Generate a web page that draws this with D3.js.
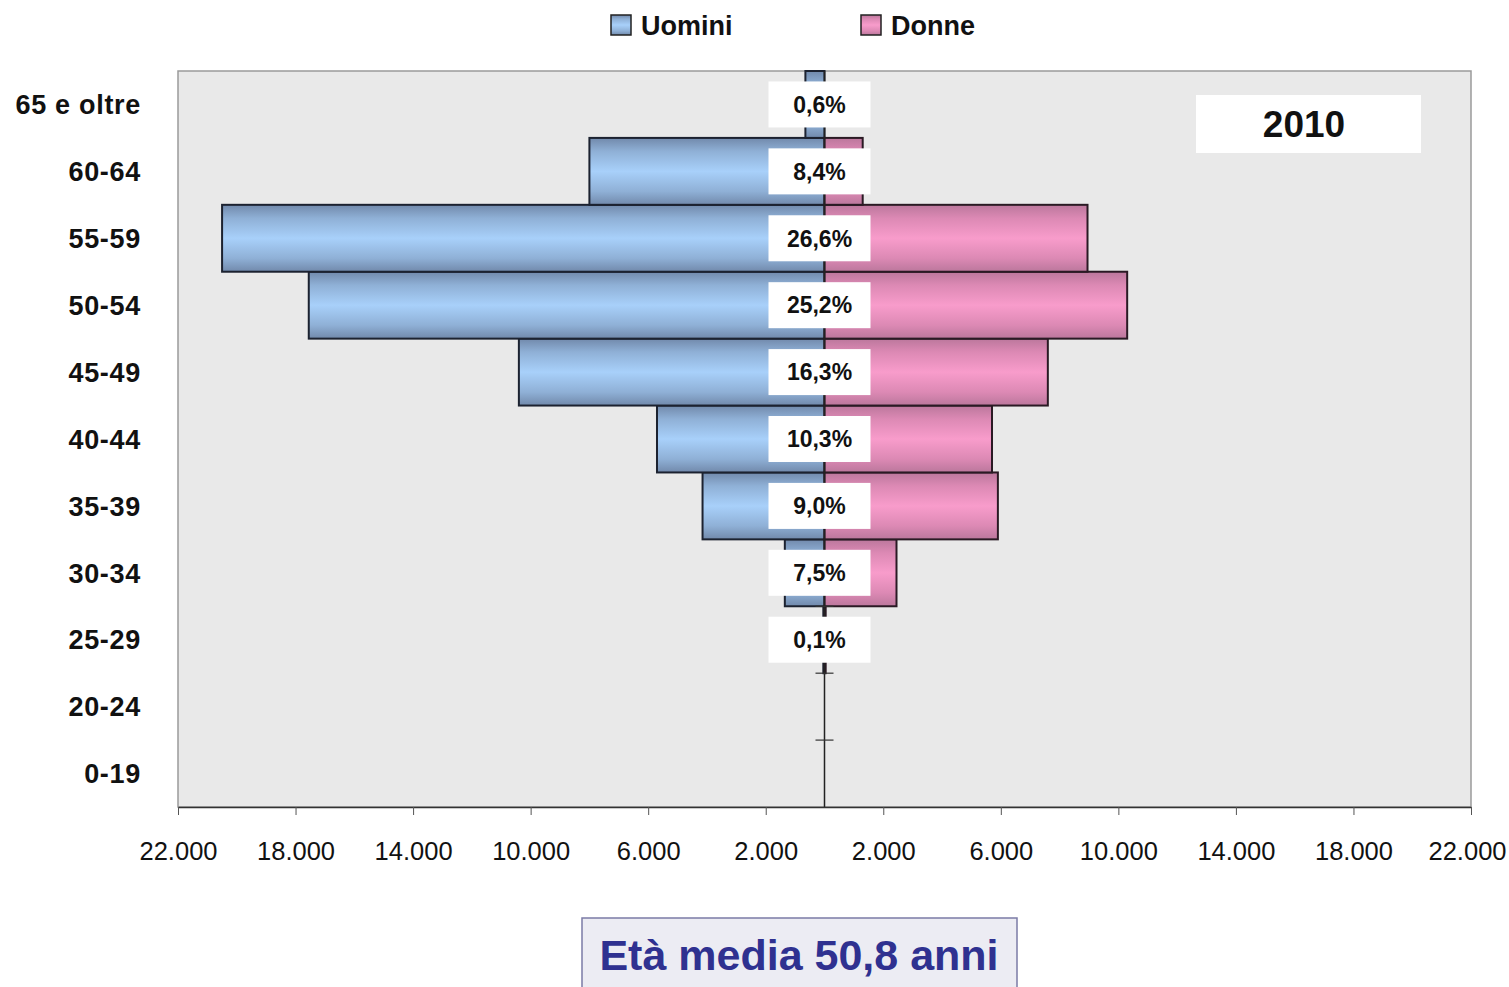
<!DOCTYPE html>
<html>
<head>
<meta charset="utf-8">
<script src="https://cdn.jsdelivr.net/npm/d3@7"></script>
<style>
  body { margin: 0; background: #fff; }
  svg { display: block; font-family: "Liberation Sans", Arial, sans-serif; }
</style>
</head>
<body>
<script>
// Age classes, bottom to top
var categories = ["0-19", "20-24", "25-29", "30-34", "35-39", "40-44", "45-49", "50-54", "55-59", "60-64", "65 e oltre"];
var men   = [0, 0, 40, 1350, 4150, 5700, 10400, 17550, 20500, 8000, 650];
var women = [0, 0, 40, 2450, 5900, 5700, 7600, 10300, 8950, 1300, 0];
var shares = ["", "", "0,1%", "7,5%", "9,0%", "10,3%", "16,3%", "25,2%", "26,6%", "8,4%", "0,6%"];
var xTicks = [-22000, -18000, -14000, -10000, -6000, -2000, 2000, 6000, 10000, 14000, 18000, 22000];
var year = "2010";
var meanAge = "Età media 50,8 anni";

var W = 1509, H = 987;
// plot area edges (note: "top" is reserved on window, so prefixed names)
var plotL = 178, plotR = 1471, plotT = 71, plotB = 807;

var it = d3.formatLocale({ decimal: ",", thousands: ".", grouping: [3], currency: ["", " €"] });
var fmt = it.format(",");

var svg = d3.select("body").append("svg")
    .attr("width", W)
    .attr("height", H);

// Gradients for the bar fills
var defs = svg.append("defs");
function grad(id, edge, mid, light) {
    var g = defs.append("linearGradient").attr("id", id)
        .attr("x1", 0).attr("y1", 0).attr("x2", 0).attr("y2", 1);
    [[0, edge], [0.2, mid], [0.5, light], [0.8, mid], [1, edge]].forEach(function(s) {
        g.append("stop").attr("offset", s[0]).attr("stop-color", s[1]);
    });
}
grad("gMen", "#7189ab", "#8fb0d6", "#a8d0fa");
grad("gWomen", "#bb779c", "#dc89b4", "#f89ccb");

var x = d3.scaleLinear().domain([-22000, 22000]).range([plotL, plotR]);
var y = d3.scaleBand().domain(categories.slice().reverse()).range([plotT, plotB]).padding(0);

// Plot area
svg.append("rect")
    .attr("x", plotL).attr("y", plotT)
    .attr("width", plotR - plotL).attr("height", plotB - plotT)
    .attr("fill", "#e9e9e9")
    .attr("stroke", "#9a9a9a")
    .attr("stroke-width", 1.5);

var rows = categories.map(function(c, i) {
    return { cat: c, m: men[i], w: women[i], p: shares[i] };
});

// Men bars (left)
svg.selectAll(".men").data(rows.filter(function(d) { return d.m > 0; }))
  .enter().append("rect")
    .attr("class", "men")
    .attr("x", function(d) { return x(-d.m); })
    .attr("y", function(d) { return y(d.cat); })
    .attr("width", function(d) { return x(0) - x(-d.m); })
    .attr("height", y.bandwidth())
    .attr("fill", "url(#gMen)")
    .attr("stroke", "#1c2230")
    .attr("stroke-width", 2);

// Women bars (right)
svg.selectAll(".women").data(rows.filter(function(d) { return d.w > 0; }))
  .enter().append("rect")
    .attr("class", "women")
    .attr("x", x(0))
    .attr("y", function(d) { return y(d.cat); })
    .attr("width", function(d) { return x(d.w) - x(0); })
    .attr("height", y.bandwidth())
    .attr("fill", "url(#gWomen)")
    .attr("stroke", "#2a1a24")
    .attr("stroke-width", 2);

// Central vertical axis with crossing ticks at the band edges
svg.append("line")
    .attr("x1", x(0)).attr("x2", x(0))
    .attr("y1", plotT).attr("y2", plotB)
    .attr("stroke", "#222").attr("stroke-width", 1.5);
svg.selectAll(".ctick").data(categories.slice(0, 3))
  .enter().append("line")
    .attr("class", "ctick")
    .attr("x1", x(0) - 9).attr("x2", x(0) + 9)
    .attr("y1", function(d) { return y(d); })
    .attr("y2", function(d) { return y(d); })
    .attr("stroke", "#333").attr("stroke-width", 1.2);

// Share labels in white boxes
var lab = svg.selectAll(".share").data(rows.filter(function(d) { return d.p; }))
  .enter().append("g")
    .attr("class", "share")
    .attr("transform", function(d) { return "translate(" + (x(0) - 5) + "," + (y(d.cat) + y.bandwidth() / 2) + ")"; });
lab.append("rect")
    .attr("x", -51).attr("y", -23)
    .attr("width", 102).attr("height", 46)
    .attr("fill", "#fff");
lab.append("text")
    .attr("text-anchor", "middle")
    .attr("dy", "0.36em")
    .attr("font-size", 23).attr("font-weight", "bold")
    .attr("fill", "#111")
    .text(function(d) { return d.p; });

// Bottom axis
var xAxis = svg.append("g")
    .attr("transform", "translate(0," + plotB + ")")
    .call(d3.axisBottom(x).tickValues(xTicks).tickSize(8).tickSizeOuter(0).tickPadding(27)
        .tickFormat(function(d) { return fmt(Math.abs(d)); }));
xAxis.select(".domain").attr("stroke", "#333").attr("stroke-width", 1.5);
xAxis.selectAll(".tick line").attr("stroke", "#555");
xAxis.selectAll("text")
    .attr("font-size", 25.5).attr("fill", "#111")
    .attr("font-family", "'Liberation Sans', Arial, sans-serif");
// keep the last label inside the page
xAxis.selectAll(".tick text").filter(function(d) { return d === 22000; })
    .attr("dx", -4);

// Category labels
svg.selectAll(".cat").data(categories)
  .enter().append("text")
    .attr("class", "cat")
    .attr("x", 141)
    .attr("y", function(d) { return y(d) + y.bandwidth() / 2; })
    .attr("dy", "0.36em")
    .attr("text-anchor", "end")
    .attr("font-size", 27).attr("font-weight", "bold")
    .attr("letter-spacing", 0.7)
    .attr("fill", "#111")
    .text(function(d) { return d; });

// Year box
svg.append("rect")
    .attr("x", 1196).attr("y", 95).attr("width", 225).attr("height", 58)
    .attr("fill", "#fff");
svg.append("text")
    .attr("x", 1304).attr("y", 124).attr("dy", "0.36em")
    .attr("text-anchor", "middle")
    .attr("font-size", 37).attr("font-weight", "bold").attr("fill", "#111")
    .text(year);

// Legend
var legend = [{ name: "Uomini", fill: "url(#gMen)", x: 611 }, { name: "Donne", fill: "url(#gWomen)", x: 861 }];
var lg = svg.selectAll(".leg").data(legend).enter().append("g")
    .attr("class", "leg")
    .attr("transform", function(d) { return "translate(" + d.x + ",15)"; });
lg.append("rect")
    .attr("width", 20).attr("height", 20)
    .attr("fill", function(d) { return d.fill; })
    .attr("stroke", "#222").attr("stroke-width", 1.5);
lg.append("text")
    .attr("x", 30).attr("y", 10).attr("dy", "0.36em")
    .attr("font-size", 27).attr("font-weight", "bold").attr("fill", "#111")
    .text(function(d) { return d.name; });

// Mean age box
svg.append("rect")
    .attr("x", 582).attr("y", 918).attr("width", 435).attr("height", 80)
    .attr("fill", "#ececf3")
    .attr("stroke", "#7b7ba6").attr("stroke-width", 1.5);
svg.append("text")
    .attr("x", 799).attr("y", 955).attr("dy", "0.36em")
    .attr("text-anchor", "middle")
    .attr("font-size", 43).attr("font-weight", "bold").attr("fill", "#2f3190")
    .text(meanAge);
</script>
</body>
</html>
